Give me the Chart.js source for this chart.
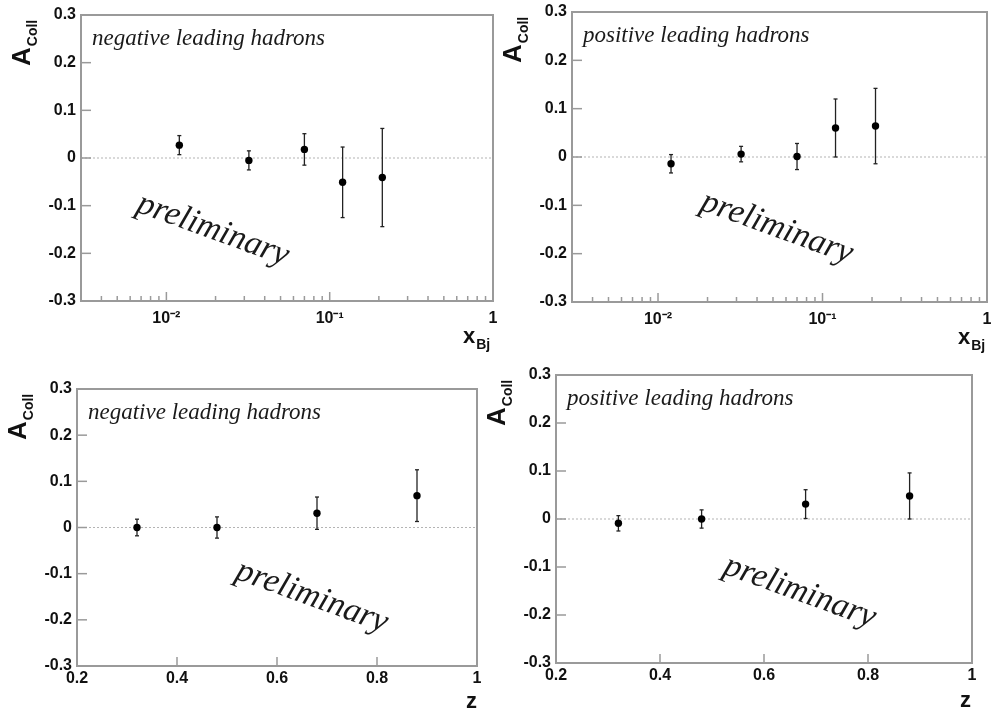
<!DOCTYPE html>
<html>
<head>
<meta charset="utf-8">
<script src="https://cdn.jsdelivr.net/npm/chart.js@4.4.0/dist/chart.umd.min.js"></script>
<style>
    body { margin: 0; background: #fff; }
    .zone { position: absolute; left: 0; top: 0; }
</style>
</head>
<body>
<canvas id="g1" class="zone" width="991" height="710"></canvas>
<canvas id="g2" class="zone" width="991" height="710"></canvas>
<canvas id="g3" class="zone" width="991" height="710"></canvas>
<canvas id="g4" class="zone" width="991" height="710"></canvas>
<script>
// Valeurs
var xBj = [0.012, 0.032, 0.07, 0.12, 0.21];
var acollXNeg = [0.027, -0.005, 0.018, -0.051, -0.041];
var errXNeg = [0.020, 0.020, 0.033, 0.074, 0.103];
var acollXPos = [-0.014, 0.006, 0.001, 0.060, 0.064];
var errXPos = [0.019, 0.016, 0.027, 0.060, 0.078];

var zVals = [0.32, 0.48, 0.68, 0.88];
var acollZNeg = [0.000, 0.000, 0.031, 0.069];
var errZNeg = [0.018, 0.023, 0.035, 0.056];
var acollZPos = [-0.009, 0.000, 0.031, 0.048];
var errZPos = [0.016, 0.019, 0.030, 0.048];

// Graduations
var yTicks = [-0.3, -0.2, -0.1, 0, 0.1, 0.2, 0.3];
var yLabels = ['-0.3', '-0.2', '-0.1', '0', '0.1', '0.2', '0.3'];
var zTicks = [0.2, 0.4, 0.6, 0.8, 1];
var zLabels = ['0.2', '0.4', '0.6', '0.8', '1'];
var logTicks = [0.01, 0.1, 1];
var logLabels = ['10\u207B\u00B2', '10\u207B\u00B9', '1'];
var logMin = 0.003;

var gris = '#9a9a9a';
var police = '"Liberation Sans", Arial, sans-serif';
var serif = '"Liberation Serif", "Times New Roman", serif';

// petites graduations du log : 2..9 dans chaque décade
var logMinor = [];
[0.001, 0.01, 0.1].forEach(d => {
    for (var k = 2; k <= 9; k++) {
        var v = k * d;
        if (v >= logMin) logMinor.push(v);
    }
});

function trait(ctx, x1, y1, x2, y2) {
    ctx.beginPath();
    ctx.moveTo(x1, y1);
    ctx.lineTo(x2, y2);
    ctx.stroke();
}

var cadre = {
    id: 'cadre',
    beforeDatasetsDraw(chart) {
        var ctx = chart.ctx, a = chart.chartArea;
        var sx = chart.scales.x, sy = chart.scales.y;
        ctx.save();
        // ligne pointillée à zéro
        ctx.strokeStyle = '#b4b4b4';
        ctx.lineWidth = 1;
        ctx.setLineDash([2, 2]);
        var y0 = sy.getPixelForValue(0);
        trait(ctx, a.left, y0, a.right, y0);
        ctx.setLineDash([]);

        // graduations vers l'intérieur
        ctx.strokeStyle = gris;
        ctx.lineWidth = 1.5;
        sy.ticks.forEach(t => {
            var y = sy.getPixelForValue(t.value);
            trait(ctx, a.left, y, a.left + 10, y);
        });
        sx.ticks.forEach(t => {
            var x = sx.getPixelForValue(t.value);
            trait(ctx, x, a.bottom, x, a.bottom - (t.major ? 9 : 5));
        });
        ctx.lineWidth = 2;
        ctx.strokeRect(a.left, a.top, a.right - a.left, a.bottom - a.top);

        // barres d'erreur
        var ds = chart.data.datasets[0];
        ctx.strokeStyle = '#222';
        ctx.lineWidth = 1.3;
        ds.data.forEach((p, i) => {
            var x = sx.getPixelForValue(p.x);
            var yh = sy.getPixelForValue(p.y + ds.erreurs[i]);
            var yb = sy.getPixelForValue(p.y - ds.erreurs[i]);
            trait(ctx, x, yh, x, yb);
            trait(ctx, x - 2, yh, x + 2, yh);
            trait(ctx, x - 2, yb, x + 2, yb);
        });
        ctx.restore();
    },
    afterDraw(chart, args, opts) {
        var ctx = chart.ctx, a = chart.chartArea;
        ctx.save();
        ctx.fillStyle = '#111';

        // A_Coll vertical
        ctx.save();
        ctx.translate(a.left - 51, a.top + 51);
        ctx.rotate(-Math.PI / 2);
        ctx.textBaseline = 'alphabetic';
        ctx.font = 'bold 26px ' + police;
        ctx.fillText('A', 0, 0);
        var wA = ctx.measureText('A').width;
        ctx.font = 'bold 14px ' + police;
        ctx.fillText('Coll', wA + 1, 7);
        ctx.restore();

        // titre de l'axe x
        ctx.font = 'bold 22px ' + police;
        ctx.fillText(opts.axe, a.right + opts.axeDx, a.bottom + opts.axeDy);
        if (opts.indice) {
            var wx = ctx.measureText(opts.axe).width;
            ctx.font = 'bold 14px ' + police;
            ctx.fillText(opts.indice, a.right + opts.axeDx + wx + 1, a.bottom + opts.axeDy + 6);
        }

        // texte en italique
        ctx.font = 'italic 23px ' + serif;
        ctx.fillStyle = '#1a1a1a';
        ctx.fillText(opts.texte, a.left + 11, a.top + 30);

        // preliminary
        ctx.translate(a.left + opts.prelim[0], a.top + opts.prelim[1]);
        ctx.rotate(20 * Math.PI / 180);
        ctx.font = 'italic 34px ' + serif;
        ctx.textAlign = 'center';
        ctx.textBaseline = 'middle';
        ctx.fillText('preliminary', 0, 0);
        ctx.restore();
    }
};

function echelleY(left) {
    return {
        type: 'linear', min: -0.3, max: 0.3,
        grid: { display: false, drawTicks: false }, border: { display: false },
        afterBuildTicks: s => { s.ticks = yTicks.map(v => ({ value: v })); },
        afterFit: s => { s.width = left; s.paddingTop = 0; s.paddingBottom = 0; },
        ticks: {
            padding: 5, color: '#111', autoSkip: false,
            font: { family: police, size: 16, weight: 'bold' },
            callback: (v, i) => yLabels[i]
        }
    };
}

function echelleLog() {
    return {
        type: 'logarithmic', min: logMin, max: 1,
        grid: { display: false, drawTicks: false }, border: { display: false },
        afterBuildTicks: s => {
            var t = logMinor.map(v => ({ value: v, major: false }));
            logTicks.forEach(v => t.push({ value: v, major: true }));
            t.sort((p, q) => p.value - q.value);
            s.ticks = t;
        },
        afterFit: s => { s.height = 30; s.paddingLeft = 0; s.paddingRight = 0; },
        ticks: {
            padding: 8, color: '#111', autoSkip: false, maxRotation: 0, minRotation: 0,
            font: { family: police, size: 16, weight: 'bold' },
            callback: function(v) {
                var k = logTicks.findIndex(d => Math.abs(d - v) < d * 1e-6);
                return k >= 0 ? logLabels[k] : '';
            }
        }
    };
}

function echelleZ() {
    return {
        type: 'linear', min: 0.2, max: 1,
        grid: { display: false, drawTicks: false }, border: { display: false },
        afterBuildTicks: s => { s.ticks = zTicks.map(v => ({ value: v, major: true })); },
        afterFit: s => { s.height = 30; s.paddingLeft = 0; s.paddingRight = 0; },
        ticks: {
            padding: 3, color: '#111', autoSkip: false, maxRotation: 0, minRotation: 0,
            font: { family: police, size: 16, weight: 'bold' },
            callback: (v, i) => zLabels[i]
        }
    };
}

function panneau(id, zone, echX, xs, ys, errs, opts) {
    var ctx = document.getElementById(id).getContext('2d');
    return new Chart(ctx, {
        type: 'scatter',
        data: {
            datasets: [{
                data: xs.map((x, i) => ({ x: x, y: ys[i] })),
                erreurs: errs,
                pointRadius: 3.7,
                pointBackgroundColor: '#000',
                pointBorderWidth: 0
            }]
        },
        options: {
            responsive: false,
            animation: false,
            events: [],
            layout: { padding: { left: 0, top: zone.top, right: 991 - zone.right, bottom: 710 - zone.bottom - 30 } },
            scales: { x: echX, y: echelleY(zone.left) },
            plugins: {
                legend: { display: false },
                tooltip: { enabled: false },
                cadre: opts
            }
        },
        plugins: [cadre]
    });
}

document.addEventListener("DOMContentLoaded", function() {
    panneau('g1', { left: 81, top: 15, right: 493, bottom: 301 }, echelleLog(), xBj, acollXNeg, errXNeg,
        { texte: 'negative leading hadrons', axe: 'x', indice: 'Bj', axeDx: -30, axeDy: 42, prelim: [132, 215] });
    panneau('g2', { left: 572, top: 12, right: 989, bottom: 302 }, echelleLog(), xBj, acollXPos, errXPos,
        { texte: 'positive leading hadrons', axe: 'x', indice: 'Bj', axeDx: -29, axeDy: 42, prelim: [205, 216] });
    panneau('g3', { left: 77, top: 389, right: 477, bottom: 666 }, echelleZ(), zVals, acollZNeg, errZNeg,
        { texte: 'negative leading hadrons', axe: 'z', indice: '', axeDx: -11, axeDy: 42, prelim: [235, 208] });
    panneau('g4', { left: 556, top: 375, right: 972, bottom: 663 }, echelleZ(), zVals, acollZPos, errZPos,
        { texte: 'positive leading hadrons', axe: 'z', indice: '', axeDx: -12, axeDy: 44, prelim: [244, 217] });
});
</script>
</body>
</html>
